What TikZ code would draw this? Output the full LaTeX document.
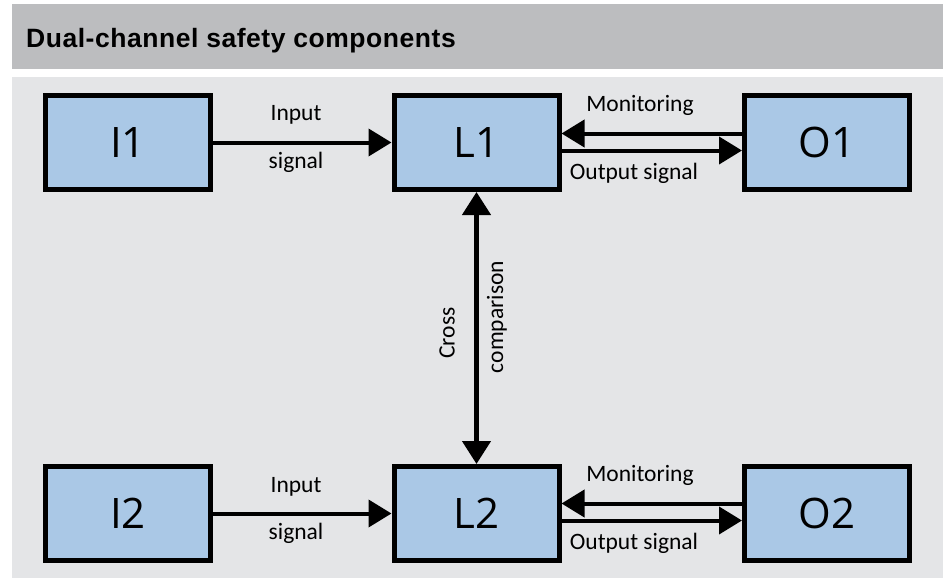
\documentclass[tikz,border=0pt]{standalone}
\usepackage{fontspec}
\setmainfont{Open Sans}
\newfontfamily\titlefont[LetterSpace=2]{Liberation Sans}
\newfontfamily\labelfont{Carlito}
\usetikzlibrary{arrows.meta}
\definecolor{headgray}{HTML}{BCBDBF}
\definecolor{panelgray}{HTML}{E4E5E7}
\definecolor{boxblue}{HTML}{AAC8E6}
\begin{document}
\begin{tikzpicture}[x=1pt,y=-1pt,
  unit/.style={draw=black,fill=boxblue,line width=5pt,minimum width=165pt,minimum height=94pt,
    inner sep=0pt,font=\fontsize{42}{42}\selectfont},
  arr/.style={line width=4pt,-{Triangle[length=23pt,width=27pt]}},
  dblarr/.style={line width=4.5pt,{Triangle[length=23pt,width=28pt]}-{Triangle[length=23pt,width=28pt]}},
  lbl/.style={font=\labelfont\fontsize{23.5}{23.5}\selectfont,inner sep=0pt}]
% page and panels
\useasboundingbox (0,0) rectangle (943,578);
\fill[white] (0,0) rectangle (943,578);
\fill[headgray] (12,4) rectangle (943,69);
\fill[panelgray] (12,77) rectangle (943,578);
\node[anchor=base west,inner sep=0pt,font=\titlefont\bfseries\fontsize{26.5}{26.5}\selectfont] (title) at (26,48) {Dual-channel safety components};
% channel 1
\node[unit] (I1) at (128,142.5) {I1};
\node[unit] (L1) at (476.5,142.5) {L1};
\node[unit] (O1) at (827,142.5) {O1};
% channel 2
\node[unit] (I2) at (128,513.5) {I2};
\node[unit] (L2) at (476.5,513.5) {L2};
\node[unit] (O2) at (827,513.5) {O2};
% signal flow, channel 1
\draw[arr] (I1.east) -- (L1.west);
\draw[arr] ([yshift=9pt]O1.west) -- ([yshift=9pt]L1.east);
\draw[arr] ([yshift=-8pt]L1.east) -- ([yshift=-8pt]O1.west);
% signal flow, channel 2
\draw[arr] (I2.east) -- (L2.west);
\draw[arr] ([yshift=10pt]O2.west) -- ([yshift=10pt]L2.east);
\draw[arr] ([yshift=-7pt]L2.east) -- ([yshift=-7pt]O2.west);
% cross comparison between the logic units
\draw[dblarr] (L1.south) -- (L2.north);
% labels
\node[lbl] (in1a) at (296,115) {Input};
\node[lbl] (in1b) at (296,162) {signal};
\node[lbl] (mon1) at (640,105) {Monitoring};
\node[lbl] (out1) at (634,173) {Output signal};
\node[lbl] (in2a) at (296,487) {Input};
\node[lbl] (in2b) at (296,533) {signal};
\node[lbl] (mon2) at (640,475) {Monitoring};
\node[lbl] (out2) at (634,543) {Output signal};
\node[lbl,rotate=90] (cross) at (447,333) {Cross};
\node[lbl,rotate=90] (comp) at (497,317) {comparison};
\end{tikzpicture}
\end{document}
